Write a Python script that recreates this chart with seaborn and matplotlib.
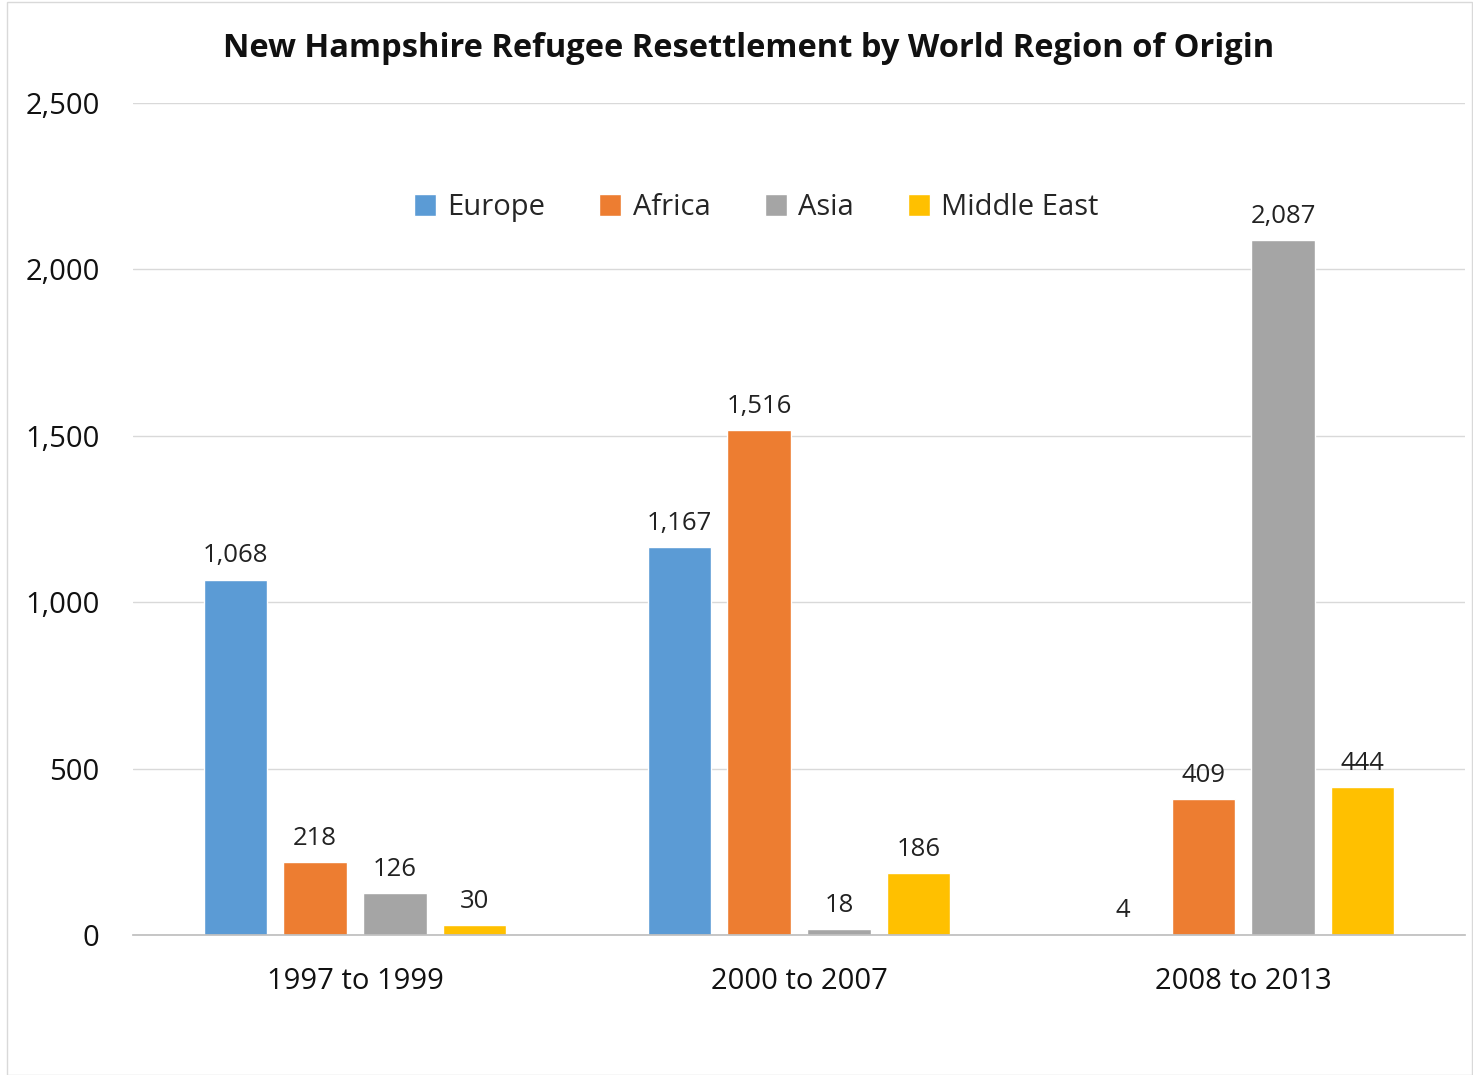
import seaborn as sns
import matplotlib.pyplot as plt
import pandas as pd
from matplotlib.patches import Rectangle

sns.set_theme(style='white')
plt.rcParams['font.family'] = ['Open Sans', 'DejaVu Sans']

periods = ['1997 to 1999', '2000 to 2007', '2008 to 2013']
regions = ['Europe', 'Africa', 'Asia', 'Middle East']
europe = [1068, 1167, 4]
africa = [218, 1516, 409]
asia = [126, 18, 2087]
middle_east = [30, 186, 444]
colors = ['#5B9BD5', '#ED7D31', '#A5A5A5', '#FFC000']

rows = []
for region, vals in zip(regions, [europe, africa, asia, middle_east]):
    for p, v in zip(periods, vals):
        rows.append({'Period': p, 'Region': region, 'Refugees': v})
df = pd.DataFrame(rows)

fig = plt.figure(figsize=(14.73, 10.75), dpi=100)
ax = fig.add_axes([0.0903, 0.1302, 0.9043, 0.774])

sns.barplot(data=df, x='Period', y='Refugees', hue='Region', order=periods,
            hue_order=regions, palette=colors, width=0.72, gap=0.21,
            saturation=1, ax=ax, errorbar=None)

# value labels above each bar
for c in ax.containers:
    ax.bar_label(c, labels=[f'{v:,.0f}' for v in c.datavalues], padding=8,
                 fontsize=18.5, color='#222222')

ax.set_xlim(-0.5, 2.5)
ax.set_ylim(0, 2500)
ax.set_yticks(range(0, 2501, 500))
ax.set_yticklabels([f'{t:,}' for t in range(0, 2501, 500)])
ax.yaxis.grid(True, color='#D9D9D9', linewidth=1)
ax.set_axisbelow(True)
for s in ['top', 'right', 'left']:
    ax.spines[s].set_visible(False)
ax.spines['bottom'].set_color('#BFBFBF')
ax.tick_params(axis='both', length=0, labelsize=21, colors='#111111')
ax.tick_params(axis='x', pad=23)
ax.tick_params(axis='y', pad=24)
ax.set_xlabel('')
ax.set_ylabel('')

ax.legend(loc='center', bbox_to_anchor=(0.468, 0.874), ncol=4, frameon=False,
          fontsize=21, handlelength=0.75, handleheight=0.75, columnspacing=1.85,
          handletextpad=0.4)

fig.suptitle('New Hampshire Refugee Resettlement by World Region of Origin',
             x=0.508, y=0.97, fontsize=23.5, fontweight='bold', color='#111111')

fig.patches.append(Rectangle((0.005, 0.0), 0.994, 0.998, transform=fig.transFigure,
                             fill=False, edgecolor='#D9D9D9', linewidth=1))

fig.savefig('out.png', dpi=100)
